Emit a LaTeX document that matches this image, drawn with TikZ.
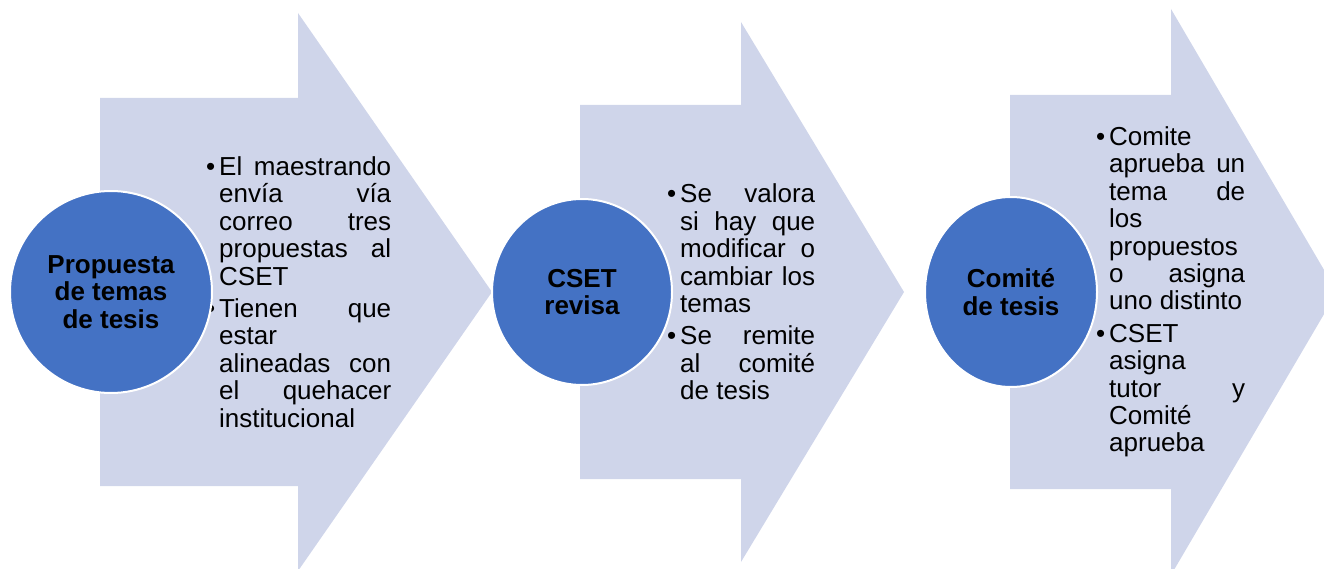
\documentclass[tikz,border=0pt]{standalone}
\usepackage{fontspec}
\setmainfont{Liberation Sans}
\usetikzlibrary{shapes.geometric}
\definecolor{arrowfill}{HTML}{CFD5EA}
\definecolor{circfill}{HTML}{4472C4}
\newcommand{\bul}{\makebox[13pt][l]{•}}
\newcommand{\bpar}{\par\noindent\hangindent=13pt\hangafter=1\bul}
\newcommand{\blk}[2]{\parbox{#1}{\tolerance=10000\hbadness=10000\hyphenpenalty=10000\parindent=0pt\parskip=5pt #2}}
\tikzset{
  arrowshape/.style={fill=arrowfill, draw=none},
  circnode/.style={ellipse, fill=circfill, draw=white, line width=2pt, inner sep=0pt, align=center,
    font=\fontsize{26}{27.4}\selectfont\bfseries, text=black},
  txtnode/.style={inner sep=0pt, anchor=west, font=\fontsize{26}{27.4}\selectfont, text=black}
}
\begin{document}
\begin{tikzpicture}[x=1pt,y=-1pt]
\useasboundingbox (0,0) rectangle (1324,569);
\clip (0,0) rectangle (1324,569);
% arrows
\fill[arrowshape] (100,98) -- (298,98) -- (298,13) -- (492,292) -- (298,571) -- (298,486) -- (100,486) -- cycle;
\fill[arrowshape] (580,105) -- (741,105) -- (741,22) -- (904,292) -- (741,562) -- (741,479) -- (580,479) -- cycle;
\fill[arrowshape] (1010,95) -- (1171,95) -- (1171,9) -- (1337,292) -- (1171,575) -- (1171,489) -- (1010,489) -- cycle;
% texts
\node[txtnode] (t1) at (206,292) {\blk{185pt}{%
\bpar El maestrando\linebreak envía vía\linebreak correo tres\linebreak propuestas al\linebreak CSET
\bpar Tienen que\linebreak estar\linebreak alineadas con\linebreak el quehacer\linebreak institucional}};
\node[txtnode] (t2) at (667,292) {\blk{148pt}{%
\bpar Se valora\linebreak si hay que\linebreak modificar o\linebreak cambiar los\linebreak temas
\bpar Se remite\linebreak al comité\linebreak de tesis}};
\node[txtnode] (t3) at (1096,292) {\blk{149pt}{%
\bpar Comite\linebreak aprueba un\linebreak tema de\linebreak los\linebreak propuestos\linebreak o asigna\linebreak uno distinto
\bpar CSET\linebreak asigna\linebreak tutor y\linebreak Comité\linebreak aprueba}};
% circles
\node[circnode, minimum width=202pt, minimum height=202pt] (c1) at (111,292) {Propuesta\\de temas\\de tesis};
\node[circnode, minimum width=180pt, minimum height=186pt] (c2) at (582,292) {CSET\\revisa};
\node[circnode, minimum width=172pt, minimum height=190pt] (c3) at (1011,292) {Comité\\de tesis};
\end{tikzpicture}
\end{document}
